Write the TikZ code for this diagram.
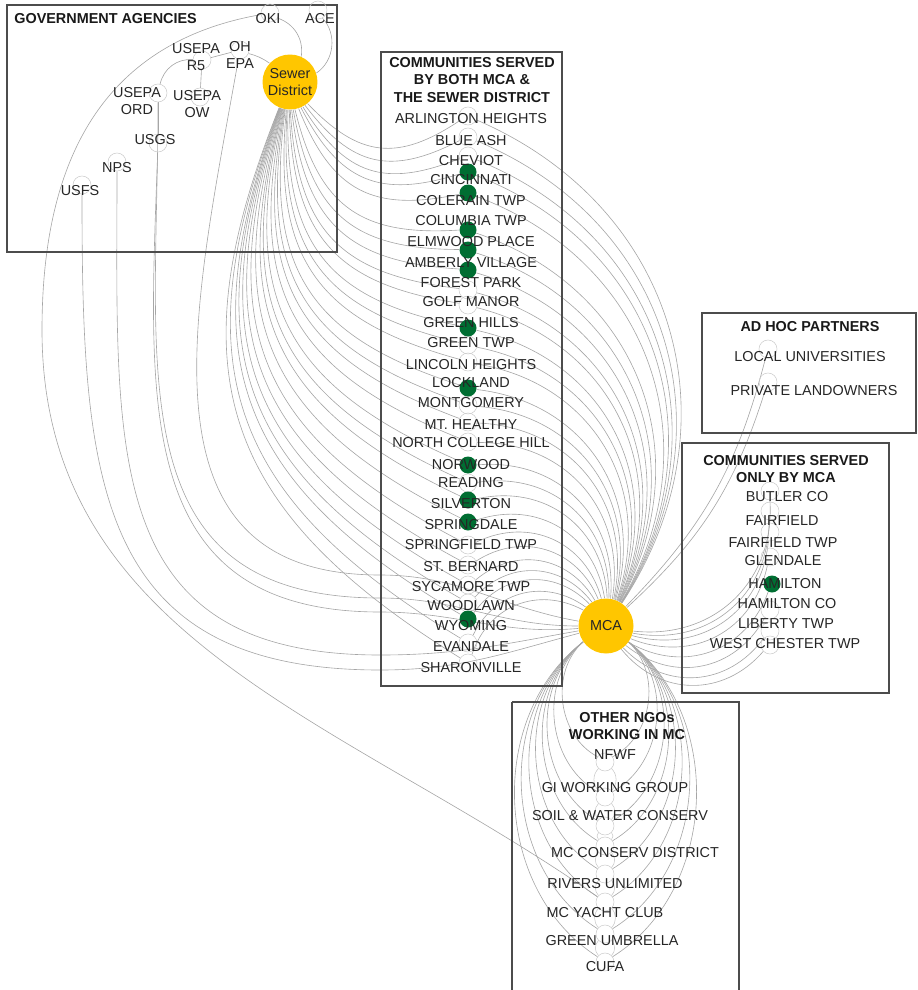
\documentclass[tikz,border=0pt]{standalone}
\usepackage{fontspec}
\setmainfont{Liberation Sans}
\usetikzlibrary{backgrounds}
\definecolor{hubyellow}{RGB}{255,198,0}
\definecolor{mcgreen}{RGB}{0,110,50}
\begin{document}
\begin{tikzpicture}[x=0.02cm,y=0.02cm,
 edge/.style={draw=gray!70, line width=0.35pt},
 edgel/.style={draw=gray!45, line width=0.3pt},
 grp/.style={draw=black!70, line width=0.75pt},
 nd/.style={circle, draw=gray!40, line width=0.3pt, minimum size=0.36cm, inner sep=0pt},
 gd/.style={circle, fill=mcgreen, minimum size=0.34cm, inner sep=0pt},
 hub/.style={circle, fill=hubyellow, minimum size=1.1cm, inner sep=0pt, align=center, font=\fontsize{8.2}{9.6}\selectfont, text=black!85},
 lbl/.style={inner sep=0pt, align=center, font=\fontsize{8.2}{9.2}\selectfont, text=black!85},
 hdr/.style={inner sep=0pt, align=center, font=\fontsize{8.2}{10.2}\selectfont\bfseries, text=black!90},
]
\useasboundingbox (0,0) rectangle (918,-990);

% group boxes
\draw[grp] (7,-5) rectangle (337,-252);
\draw[grp] (381,-52) rectangle (562,-686);
\draw[grp] (702,-313) rectangle (916,-433);
\draw[grp] (682,-443) rectangle (889,-693);
\draw[grp] (512,-702) -- (512,-995) (512,-702) -- (739,-702) -- (739,-995);

% government agencies
\node[nd] (oki) at (270,-13) {};
\node[nd] (ace) at (318,-10) {};
\node[nd] (r5) at (202,-60) {};
\node[nd] (ohepa) at (240,-50) {};
\node[nd] (ord) at (158,-93) {};
\node[nd] (ow) at (200,-97) {};
\node[nd] (usgs) at (158,-143) {};
\node[nd] (nps) at (117,-162) {};
\node[nd] (usfs) at (82,-185) {};

% communities served by both (plain)
\foreach \n/\t/\ly/\ny in {
 c1/ARLINGTON HEIGHTS/119/116, c2/BLUE ASH/141/137, c3/CHEVIOT/161/156,
 c9/FOREST PARK/283/290, c10/GOLF MANOR/302/305, c12/GREEN TWP/343/345,
 c13/LINCOLN HEIGHTS/365/362, c15/MONTGOMERY/403/405, c16/MT. HEALTHY/425/422,
 c17/NORTH COLLEGE HILL/443/442, c19/READING/483/483, c22/SPRINGFIELD TWP/545/545,
 c23/ST. BERNARD/567/565, c24/SYCAMORE TWP/587/585, c25/WOODLAWN/606/603,
 c27/EVANDALE/647/643, c28/SHARONVILLE/668/663}
 { \node[nd] (\n) at (468,-\ny) {}; }
% communities served by both (green)
\foreach \n/\t/\ly/\ny in {
 c4/CINCINNATI/180/172, c5/COLERAIN TWP/201/193, c6/COLUMBIA TWP/221/230,
 c7/ELMWOOD PLACE/242/250, c8/AMBERLY VILLAGE/263/270, c11/GREEN HILLS/323/328,
 c14/LOCKLAND/383/388, c18/NORWOOD/465/465, c20/SILVERTON/504/500,
 c21/SPRINGDALE/525/522, c26/WYOMING/626/619}
 { \node[gd] (\n) at (468,-\ny) {}; }

% ad hoc partners
\node[nd] (a1) at (768,-349) {};
\node[nd] (a2) at (768,-382) {};

% communities served only by MCA
\node[nd] (o1) at (770,-491) {};
\node[nd] (o2) at (770,-511) {};
\node[nd] (o3) at (770,-532) {};
\node[nd] (o4) at (770,-557) {};
\node[gd] (o5) at (772,-584) {};
\node[nd] (o6) at (770,-610) {};
\node[nd] (o7) at (770,-631) {};
\node[nd] (o8) at (770,-645) {};

% other NGOs
\node[nd] (n1) at (605,-762) {};
\node[nd] (n2) at (605,-797) {};
\node[nd] (n3) at (605,-826) {};
\node[nd] (n4) at (605,-846) {};
\node[nd] (n5) at (605,-874) {};
\node[nd] (n6) at (605,-902) {};
\node[nd] (n7) at (605,-934) {};
\node[nd] (n8) at (605,-962) {};

% hubs
\node[hub] (sewer) at (290,-82) {Sewer\\District};
\node[hub] (mca) at (606,-626) {MCA};

% free ends of long connectors
\coordinate (k1) at (42,-330);
\coordinate (k2) at (380,-670);
\coordinate (k3) at (380,-655);
\coordinate (k4) at (380,-612);
\coordinate (k5) at (380,-598);
\coordinate (k6) at (380,-575);

\begin{scope}[on background layer]
 \foreach \n in {c1,c2,c3,c4,c5,c6,c7,c8,c9,c10,c11,c12,c13,c14,c15,c16,c17,c18,c19,c20,c21,c22,c23,c24,c25,c26,c27,c28}
 { \draw[edge] (sewer) to[bend right=40, looseness=1.25] (\n);
   \draw[edge] (mca) to[bend right=50, looseness=1.1] (\n); }
 \foreach \n in {o1,o2,o3,o4,o5,o6,o7,o8}
 { \draw[edge] (mca) to[bend right=50, looseness=1.1] (\n); }
 \foreach \n in {a1,a2}
 { \draw[edge] (mca) to[bend right=15] (\n); }
 \foreach \n in {n1,n2,n3,n4,n5,n6,n7,n8}
 { \draw[edge] (mca) to[bend right=55] (\n);
   \draw[edge] (mca) to[bend left=55] (\n); }
 \foreach \a/\b in {n1/n2,n2/n3,n3/n4,n4/n5,n5/n6,n6/n7,n7/n8}
 { \draw[edgel] (\a) to[bend right=45] (\b);
   \draw[edgel] (\a) to[bend left=45] (\b); }
 % government agency links
 \draw[edge] (oki) to[bend left=40] (sewer);
 \draw[edge] (ace) to[bend left=50] (sewer);
 \draw[edge] (sewer) to[bend right=10] (ohepa);
 \draw[edge] (ohepa) -- (r5);
 \draw[edge] (r5) -- (ow);
 \draw[edge] (r5) to[bend right=40] (ord);
 \draw[edge] (ord) -- (usgs);
 \draw[edge] (oki) to[out=190,in=90,looseness=1.1] (k1) to[out=-90,in=145] (n6);
 \draw[edge] (usfs) to[out=-90,in=180,looseness=1.3] (k2) to[out=0,in=195] (mca);
 \draw[edge] (nps) to[out=-90,in=180,looseness=1.3] (k3) to[out=0,in=190] (mca);
 \draw[edge] (usgs) to[out=-92,in=180,looseness=1.25] (k4) to[out=0,in=185] (mca);
 \draw[edge] (ord) to[out=-90,in=180,looseness=1.25] (k5) to[out=0,in=180] (mca);
 \draw[edge] (ohepa) to[out=-100,in=180,looseness=1.2] (k6) to[out=0,in=170] (mca);
\end{scope}

% headers
\node[hdr, anchor=west] (h-gov) at (14,-19) {GOVERNMENT AGENCIES};
\node[hdr] (h-both) at (472,-80) {COMMUNITIES SERVED\\BY BOTH MCA \&\\THE SEWER DISTRICT};
\node[hdr] (h-adhoc) at (810,-327) {AD HOC PARTNERS};
\node[hdr] (h-only) at (786,-469) {COMMUNITIES SERVED\\ONLY BY MCA};
\node[hdr] (h-ngo) at (627,-726) {OTHER NGOs\\WORKING IN MC};

% government agency labels
\node[lbl] (t-oki) at (268,-19) {OKI};
\node[lbl] (t-ace) at (320,-19) {ACE};
\node[lbl] (t-r5) at (196,-57) {USEPA\\R5};
\node[lbl] (t-ohepa) at (240,-55) {OH\\EPA};
\node[lbl] (t-ord) at (137,-101) {USEPA\\ORD};
\node[lbl] (t-ow) at (197,-104) {USEPA\\OW};
\node[lbl] (t-usgs) at (155,-140) {USGS};
\node[lbl] (t-nps) at (117,-168) {NPS};
\node[lbl] (t-usfs) at (80,-191) {USFS};

% community labels
\foreach \n/\t/\ly in {
 c1/ARLINGTON HEIGHTS/119, c2/BLUE ASH/141, c3/CHEVIOT/161, c4/CINCINNATI/180,
 c5/COLERAIN TWP/201, c6/COLUMBIA TWP/221, c7/ELMWOOD PLACE/242, c8/AMBERLY VILLAGE/263,
 c9/FOREST PARK/283, c10/GOLF MANOR/302, c11/GREEN HILLS/323, c12/GREEN TWP/343,
 c13/LINCOLN HEIGHTS/365, c14/LOCKLAND/383, c15/MONTGOMERY/403, c16/MT. HEALTHY/425,
 c17/NORTH COLLEGE HILL/443, c18/NORWOOD/465, c19/READING/483, c20/SILVERTON/504,
 c21/SPRINGDALE/525, c22/SPRINGFIELD TWP/545, c23/ST. BERNARD/567, c24/SYCAMORE TWP/587,
 c25/WOODLAWN/606, c26/WYOMING/626, c27/EVANDALE/647, c28/SHARONVILLE/668}
 { \node[lbl] (t-\n) at (471,-\ly) {\t}; }

\node[lbl] (t-a1) at (810,-357) {LOCAL UNIVERSITIES};
\node[lbl] (t-a2) at (814,-391) {PRIVATE LANDOWNERS};

\node[lbl] (t-o1) at (787,-497) {BUTLER CO};
\node[lbl] (t-o2) at (782,-521) {FAIRFIELD};
\node[lbl] (t-o3) at (783,-543) {FAIRFIELD TWP};
\node[lbl] (t-o4) at (783,-561) {GLENDALE};
\node[lbl] (t-o5) at (785,-584) {HAMILTON};
\node[lbl] (t-o6) at (787,-604) {HAMILTON CO};
\node[lbl] (t-o7) at (786,-624) {LIBERTY TWP};
\node[lbl] (t-o8) at (785,-644) {WEST CHESTER TWP};

\node[lbl] (t-n1) at (615,-755) {NFWF};
\node[lbl] (t-n2) at (615,-788) {GI WORKING GROUP};
\node[lbl] (t-n3) at (620,-816) {SOIL \& WATER CONSERV};
\node[lbl] (t-n4) at (635,-853) {MC CONSERV DISTRICT};
\node[lbl] (t-n5) at (615,-884) {RIVERS UNLIMITED};
\node[lbl] (t-n6) at (605,-913) {MC YACHT CLUB};
\node[lbl] (t-n7) at (612,-941) {GREEN UMBRELLA};
\node[lbl] (t-n8) at (605,-967) {CUFA};
\end{tikzpicture}
\end{document}
